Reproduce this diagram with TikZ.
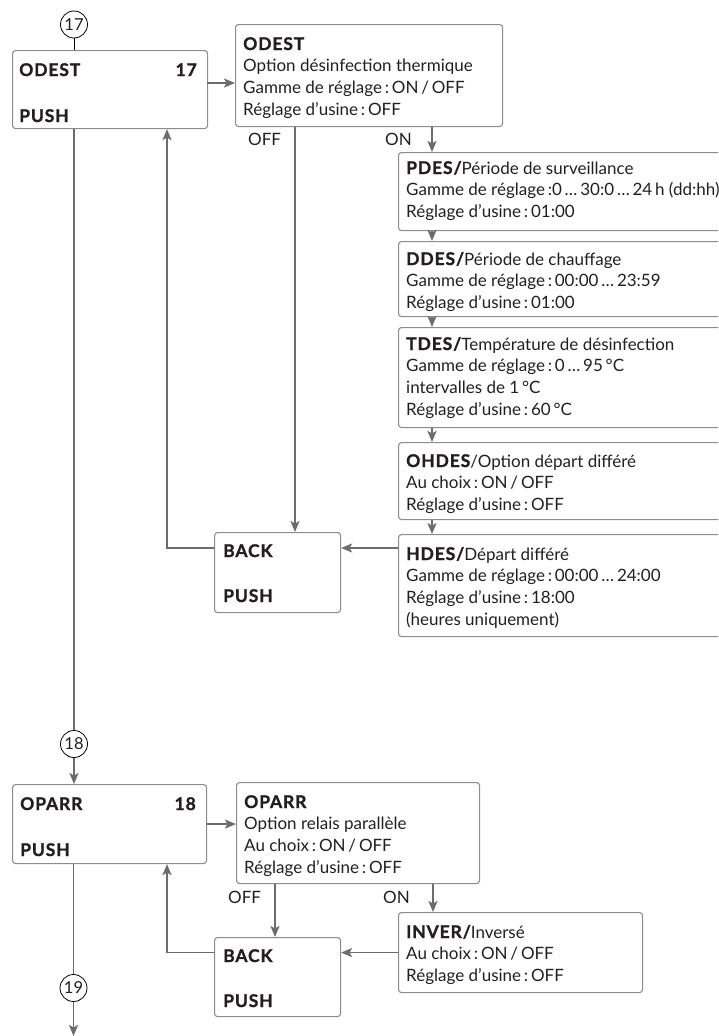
\documentclass[tikz,border=0pt]{standalone}
\usepackage{fontspec}
\setmainfont{Lato}[BoldFeatures={LetterSpace=5,FakeBold=1.3}]
\usetikzlibrary{arrows.meta,calc}
\definecolor{lnc}{HTML}{6B6C6F}
\definecolor{boxc}{HTML}{8C8C8C}
\definecolor{txc}{HTML}{231F20}
\newcommand\lns[1]{\begin{tabular}[t]{@{}l@{}}#1\end{tabular}}
\newcommand\bt[1]{{\fontsize{17.5}{21.8}\selectfont\bfseries #1}}
\begin{document}
\begin{tikzpicture}[x=1pt,y=-1pt,
  frame/.style={draw=boxc, line width=1.1pt, rounded corners=3pt, inner sep=0pt, anchor=north west},
  txt/.style={text=txc, inner sep=0pt, anchor=base west, font=\fontsize{17}{21.8}\selectfont},
  btxt/.style={txt, font=\fontsize{17.5}{21.8}\selectfont\bfseries},
  conn/.style={draw=lnc, line width=1.8pt},
  arr/.style={conn, -{Stealth[length=11pt,width=9pt,inset=2.5pt]}},
  thinl/.style={draw=black, line width=0.8pt},
  circ/.style={circle, draw=black, line width=0.8pt, minimum size=27pt, inner sep=0pt, text=txc, font=\fontsize{16.5}{16.5}\selectfont}]
\useasboundingbox (0,0) rectangle (718,1036);
\clip (0,0) rectangle (718,1036);
% ---------- section 17 ----------
\node[circ] (c17) at (74,24.5) {17};
\node[frame, minimum width=195pt, minimum height=78pt] (m17) at (12,50) {};
\node[btxt] (m17a) at (19,76) {ODEST};
\node[btxt, anchor=base east] (m17n) at (197,76) {17};
\node[btxt] (m17b) at (19,122) {PUSH};
\node[frame, minimum width=267pt, minimum height=102pt] (d17) at (235,24) {};
\node[txt] (d17t) at (243,50) {\lns{\bt{ODEST}\\Option désinfection thermique\\Gamme de réglage\,:\,ON\,/\,OFF\\Réglage d’usine\,:\,OFF}};
\node[txt] (off1) at (248,145) {OFF};
\node[txt] (on1) at (385,145) {ON};
\node[frame, minimum width=327pt, minimum height=78pt] (pdes) at (398,152) {};
\node[txt] (pdest) at (406,174) {\lns{\bt{PDES/}Période de surveillance\\Gamme de réglage\,:0\,…\,30:0\,…\,24\,h (dd:hh)\\Réglage d’usine\,:\,01:00}};
\node[frame, minimum width=327pt, minimum height=75pt] (ddes) at (398,241) {};
\node[txt] (ddest) at (406,265) {\lns{\bt{DDES/}Période de chauffage\\Gamme de réglage\,:\,00:00\,…\,23:59\\Réglage d’usine\,:\,01:00}};
\node[frame, minimum width=327pt, minimum height=100pt] (tdes) at (398,327) {};
\node[txt] (tdest) at (406,350) {\lns{\bt{TDES/}Température de désinfection\\Gamme de réglage\,:\,0\,…\,95\,°C\\intervalles de 1\,°C\\Réglage d’usine\,:\,60\,°C}};
\node[frame, minimum width=327pt, minimum height=77pt] (ohdes) at (398,442) {};
\node[txt] (ohdest) at (406,467) {\lns{\bt{OHDES}/Option départ différé\\Au choix\,:\,ON\,/\,OFF\\Réglage d’usine\,:\,OFF}};
\node[frame, minimum width=327pt, minimum height=102pt] (hdes) at (398,534) {};
\node[txt] (hdest) at (406,560) {\lns{\bt{HDES/}Départ différé\\Gamme de réglage\,:\,00:00\,…\,24:00\\Réglage d’usine\,:\,18:00\\(heures uniquement)}};
\node[frame, minimum width=126pt, minimum height=80pt] (back1) at (214,532) {};
\node[btxt] (back1a) at (223,557) {BACK};
\node[btxt] (back1b) at (223,602) {PUSH};
% ---------- section 18 ----------
\node[circ] (c18) at (74,744) {18};
\node[frame, minimum width=194pt, minimum height=79pt] (m18) at (12,784) {};
\node[btxt] (m18a) at (20,810) {OPARR};
\node[btxt, anchor=base east] (m18n) at (196,810) {18};
\node[btxt] (m18b) at (20,856) {PUSH};
\node[frame, minimum width=243pt, minimum height=101pt] (d18) at (236,782) {};
\node[txt] (d18t) at (244,808) {\lns{\bt{OPARR}\\Option relais parallèle\\Au choix\,:\,ON\,/\,OFF\\Réglage d’usine\,:\,OFF}};
\node[txt] (off2) at (228,903) {OFF};
\node[txt] (on2) at (383,903) {ON};
\node[frame, minimum width=244pt, minimum height=80pt] (inver) at (398,912) {};
\node[txt] (invert) at (406,938) {\lns{\bt{INVER/}Inversé\\Au choix\,:\,ON\,/\,OFF\\Réglage d’usine\,:\,OFF}};
\node[frame, minimum width=126pt, minimum height=79pt] (back2) at (214,937) {};
\node[btxt] (back2a) at (223,962) {BACK};
\node[btxt] (back2b) at (223,1007) {PUSH};
\node[circ] (c19) at (73.5,988) {19};
% ---------- helper coordinates ----------
\coordinate (a17) at (207,83);
\coordinate (offx1) at (295,0);
\coordinate (onx) at (432,0);
\coordinate (retx) at (167,0);
\coordinate (ya) at (0,548);
\coordinate (offx2) at (275,0);
\coordinate (onx2) at (433,0);
\coordinate (endpt) at (73.5,1036);
% ---------- connectors ----------
\draw[thinl] (c17.south) -- (c17 |- m17.north);
\draw[arr] (a17) -- (a17 -| d17.west);
\draw[arr] (d17.south -| offx1) -- (back1.north -| offx1);
\draw[arr] (d17.south -| onx) -- (pdes.north -| onx);
\draw[arr] (pdes.south -| onx) -- (ddes.north -| onx);
\draw[arr] (ddes.south -| onx) -- (tdes.north -| onx);
\draw[arr] (tdes.south -| onx) -- (ohdes.north -| onx);
\draw[arr] (ohdes.south -| onx) -- (hdes.north -| onx);
\draw[arr] (hdes.west |- ya) -- (back1.east |- ya);
\draw[arr] (back1.west |- ya) -| (m17.south -| retx);
\draw[conn] (m17.south -| c18) -- (c18.north);
\draw[arr] (c18.south) -- (m18.north -| c18);
\draw[arr] (m18.east) -- (m18.east -| d18.west);
\draw[arr] (d18.south -| offx2) -- (back2.north -| offx2);
\draw[arr] (d18.south -| onx2) -- (inver.north -| onx2);
\draw[arr] (inver.west) -- (inver.west -| back2.east);
\draw[arr] (back2.west |- inver.west) -| (m18.south -| retx);
\draw[conn] (m18.south -| c19) -- (c19.north);
\draw[arr] (c19.south) -- (endpt);
\end{tikzpicture}
\end{document}
